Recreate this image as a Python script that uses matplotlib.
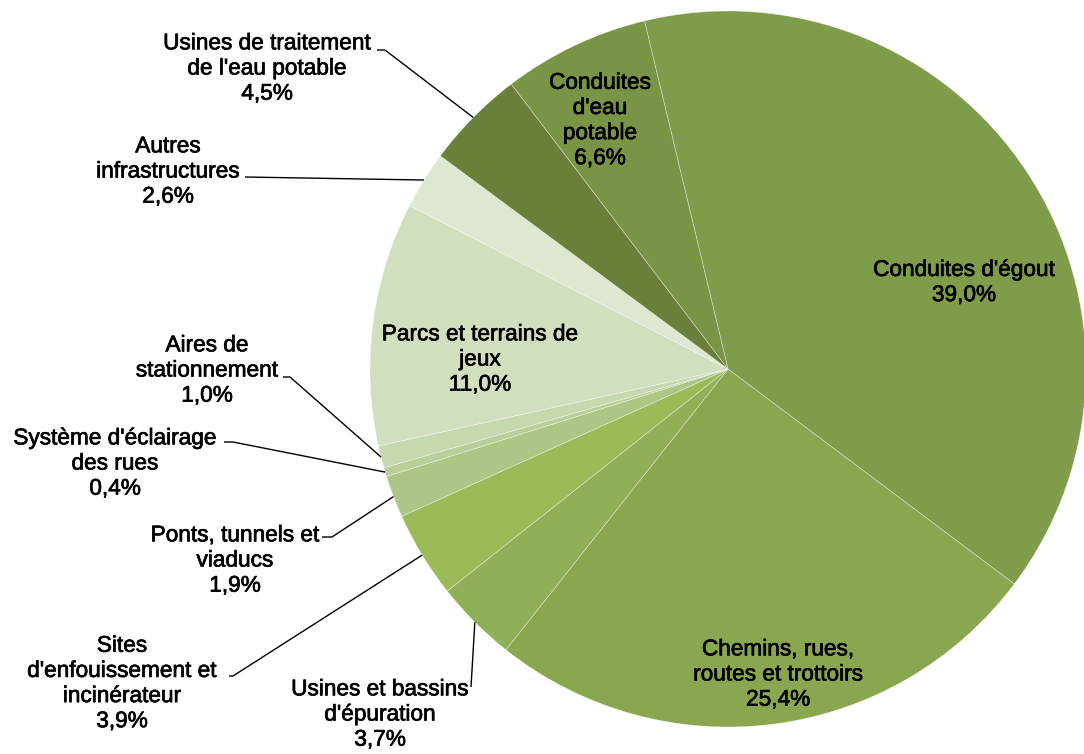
import numpy as np
import matplotlib
matplotlib.use("Agg")
import matplotlib.pyplot as plt
import matplotlib.patheffects as pe

plt.rcParams['font.family'] = ['Liberation Sans', 'DejaVu Sans']

# Répartition des dépenses en infrastructures (%)
categories = [
    "Conduites d'égout",
    "Chemins, rues,\nroutes et trottoirs",
    "Usines et bassins\nd'épuration",
    "Sites\nd'enfouissement et\nincinérateur",
    "Ponts, tunnels et\nviaducs",
    "Système d'éclairage\ndes rues",
    "Aires de\nstationnement",
    "Parcs et terrains de\njeux",
    "Autres\ninfrastructures",
    "Usines de traitement\nde l'eau potable",
    "Conduites\nd'eau\npotable",
]
values = [39.0, 25.4, 3.7, 3.9, 1.9, 0.4, 1.0, 11.0, 2.6, 4.5, 6.6]
colors = ['#7f9c4a', '#8aa64f', '#90b057', '#9bbb59', '#adc585', '#b9cf99',
          '#c6d8ad', '#d2dfbf', '#dee7cf', '#6a7f3a', '#7a9446']

W, H = 1084, 754
fig = plt.figure(figsize=(W / 100, H / 100), dpi=100)
ax = fig.add_axes([0, 0, 1, 1])


def px(x, y):
    """Image-style coordinates (y downwards) to axes data coordinates."""
    return x, H - y


cx, cy = px(728, 369)
R = 358
wedges, _ = ax.pie(values, colors=colors, startangle=103.5, counterclock=False,
                   center=(cx, cy), radius=R, frame=True,
                   wedgeprops=dict(edgecolor=(1, 1, 1, 0.45), linewidth=0.5))
ax.set_xlim(0, W)
ax.set_ylim(0, H)
ax.set_aspect('equal')
ax.axis('off')

FS = 16.3
label_text = [f"{c}\n{v:.1f}%".replace('.', ',') for c, v in zip(categories, values)]

# text centre for each label (image coords) and optional leader route
text_pos = [(964, 282), (778, 674), (380, 714), (122, 683), (235, 560),
            (115, 463), (207, 370), (480, 359), (168, 171), (267, 68),
            (600, 120)]
leaders = {
    2: [(471, 687)],
    3: [(233, 676), (229, 676)],
    4: [(332, 537), (322, 537)],
    5: [(233, 442), (224, 442)],
    6: [(290, 377), (283, 377)],
    8: [(245, 177)],
    9: [(385, 50), (377, 50)],
}

bold_fx = [pe.withStroke(linewidth=0.5, foreground='black')]
for i, (w, txt) in enumerate(zip(wedges, label_text)):
    tx, ty = px(*text_pos[i])
    ax.text(tx, ty, txt, ha='center', va='center', multialignment='center',
            fontsize=FS, color='black', linespacing=1.12, path_effects=bold_fx)
    if i in leaders:
        mid = np.deg2rad((w.theta1 + w.theta2) / 2)
        ex, ey = cx + R * np.cos(mid), cy + R * np.sin(mid)
        pts = [(ex, ey)] + [px(*p) for p in leaders[i]]
        xs, ys = zip(*pts)
        ax.plot(xs, ys, color='black', linewidth=1.0, solid_capstyle='butt')

fig.savefig('out.png', dpi=100, facecolor='white')
